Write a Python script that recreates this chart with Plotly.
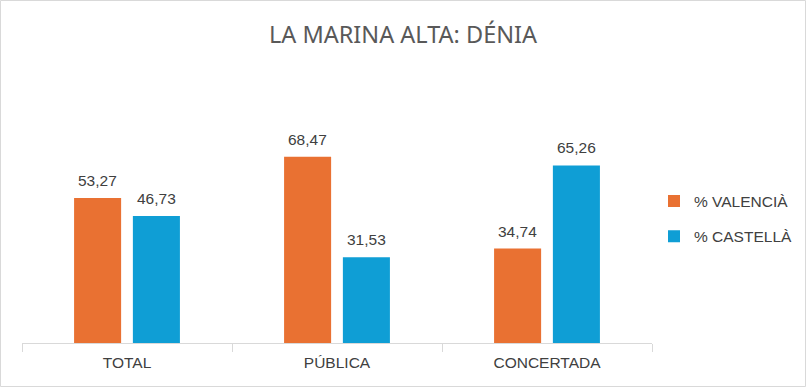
import plotly.graph_objects as go

categories = ["TOTAL", "PÚBLICA", "CONCERTADA"]
valencia = [53.27, 68.47, 34.74]
castella = [46.73, 31.53, 65.26]
series_names = ["% VALENCIÀ", "% CASTELLÀ"]
colors = ["#E97132", "#0F9ED5"]

fig = go.Figure()
for name, vals, col in zip(series_names, [valencia, castella], colors):
    fig.add_trace(go.Bar(x=categories, y=vals, name=name, marker_color=col,
                         legendgroup=name,
                         marker_line_width=0, hoverinfo="skip"))

# data labels
for vals, shift in zip([valencia, castella], [-29.5, 29.5]):
    for c, v in zip(categories, vals):
        fig.add_annotation(x=c, y=v, text=f"{v:.2f}".replace(".", ","),
                           showarrow=False, yanchor="bottom", yshift=7, xshift=shift,
                           font=dict(family="Liberation Sans, Arial", size=15.5, color="#404040"))

W, H = 806, 387
ml, mr, mt, mb = 22, 154, 71, 44
pw, ph = W - ml - mr, H - mt - mb
fig.add_shape(type="rect", xref="paper", yref="paper",
              x0=(0.5 - ml) / pw, x1=(W - 0.5 - ml) / pw,
              y0=-(mb - 0.5) / ph, y1=(H - mb - 0.5) / ph,
              line=dict(color="#D9D9D9", width=1), layer="below")

fig.update_layout(
    width=W, height=H,
    margin=dict(l=ml, r=mr, t=mt, b=mb, autoexpand=False),
    paper_bgcolor="white", plot_bgcolor="white",
    title=dict(text="LA MARINA ALTA: DÉNIA", x=0.5, xref="container", xanchor="center",
               y=1 - 35 / H, yanchor="middle",
               font=dict(family="Noto Sans, Open Sans", size=23.5, color="#595959")),
    barmode="group", bargap=0.44, bargroupgap=0.2,
    showlegend=True,
    legend=dict(x=(654 - ml) / pw, xanchor="left", y=0.456, yanchor="middle",
                font=dict(family="Liberation Sans, Arial", size=15.5, color="#404040"),
                itemsizing="constant", tracegroupgap=12, bgcolor="rgba(0,0,0,0)"),
    xaxis=dict(showline=True, linecolor="#D9D9D9", linewidth=1, ticks="outside",
               tickson="boundaries", ticklen=8, tickcolor="#D9D9D9",
               ticklabelstandoff=5,
               tickfont=dict(family="Liberation Sans, Arial", size=15.5, color="#404040"),
               showgrid=False, fixedrange=True),
    yaxis=dict(range=[0, 100], visible=False, showgrid=False, fixedrange=True),
)

fig.write_html("out.html", config={"displayModeBar": False},
               post_script="document.body.style.margin='0';document.body.style.overflow='hidden';")
